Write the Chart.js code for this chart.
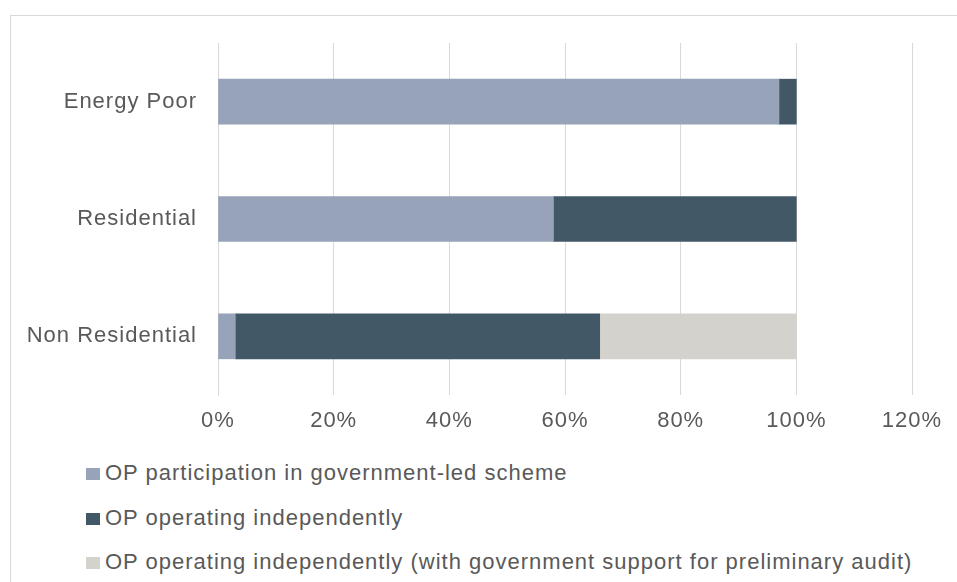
<!DOCTYPE html>
<html>
<head>
<meta charset="utf-8">
<script src="https://cdn.jsdelivr.net/npm/chart.js@4.4.0/dist/chart.umd.min.js"></script>
<style>
  body { margin: 0; background: #fff; width: 957px; height: 582px; overflow: hidden; position: relative; font-family: "Liberation Sans", Arial, sans-serif; }
  #frame { position: absolute; left: 10px; top: 15px; width: 1000px; height: 700px; border-left: 1px solid #d9d9d9; border-top: 1px solid #d9d9d9; }
  #wrap { position: absolute; left: 0; top: 0; width: 957px; height: 440px; }
  #legend { position: absolute; left: 86px; top: 451px; }
  .item { height: 44.5px; line-height: 44.5px; font-size: 22px; letter-spacing: 1px; color: #595959; white-space: nowrap; }
  .box { display: inline-block; width: 14px; height: 12px; margin-right: 5px; vertical-align: 0px; }
</style>
</head>
<body>
<div id="frame"></div>
<div id="wrap"><canvas id="myChart"></canvas></div>
<div id="legend"></div>
<script>
const categories = ['Energy Poor', 'Residential', 'Non Residential'];
const seriesNames = [
  'OP participation in government-led scheme',
  'OP operating independently',
  'OP operating independently (with government support for preliminary audit)'
];
const govLed = [97, 58, 3];
const independent = [3, 42, 63];
const withAudit = [0, 0, 34];
const tickValues = [0, 20, 40, 60, 80, 100, 120];

const colors = ['#97a3b8', '#435867', '#d4d2cc'];

Chart.defaults.font.family = '"Liberation Sans", Arial, sans-serif';
Chart.defaults.font.size = 22;
Chart.defaults.color = '#595959';

// reference text is a bit wider than Liberation Sans, add some spacing
const spacing = {
  id: 'spacing',
  beforeDraw: function(chart) { chart.ctx.letterSpacing = '1px'; }
};

var ctx = document.getElementById('myChart');
var myChart = new Chart(ctx, {
  type: 'bar',
  data: {
    labels: categories,
    datasets: [
      { label: seriesNames[0], data: govLed, backgroundColor: colors[0] },
      { label: seriesNames[1], data: independent, backgroundColor: colors[1] },
      { label: seriesNames[2], data: withAudit, backgroundColor: colors[2] }
    ]
  },
  options: {
    indexAxis: 'y',
    responsive: true,
    maintainAspectRatio: false,
    animation: false,
    datasets: { bar: { barThickness: 45, borderWidth: 0 } },
    layout: { padding: { top: 43, right: 45, left: 0, bottom: 0 } },
    plugins: { legend: { display: false }, tooltip: { enabled: false } },
    scales: {
      x: {
        stacked: true,
        min: 0,
        max: 120,
        afterBuildTicks: function(s) { s.ticks = tickValues.map(v => ({ value: v })); },
        afterFit: function(s) { s.height = 45; },
        grid: { color: '#d9d9d9', drawTicks: false },
        border: { display: false },
        ticks: { padding: 13, callback: v => v + '%' }
      },
      y: {
        stacked: true,
        afterFit: function(s) { s.width = 218; },
        grid: { display: false, drawTicks: false },
        border: { color: '#d9d9d9' },
        ticks: { padding: 21 }
      }
    }
  },
  plugins: [spacing]
});

var legend = document.getElementById('legend');
myChart.data.datasets.forEach(function(ds) {
  var item = document.createElement('div');
  item.className = 'item';
  var box = document.createElement('span');
  box.className = 'box';
  box.style.background = ds.backgroundColor;
  item.appendChild(box);
  item.appendChild(document.createTextNode(ds.label));
  legend.appendChild(item);
});
</script>
</body>
</html>
